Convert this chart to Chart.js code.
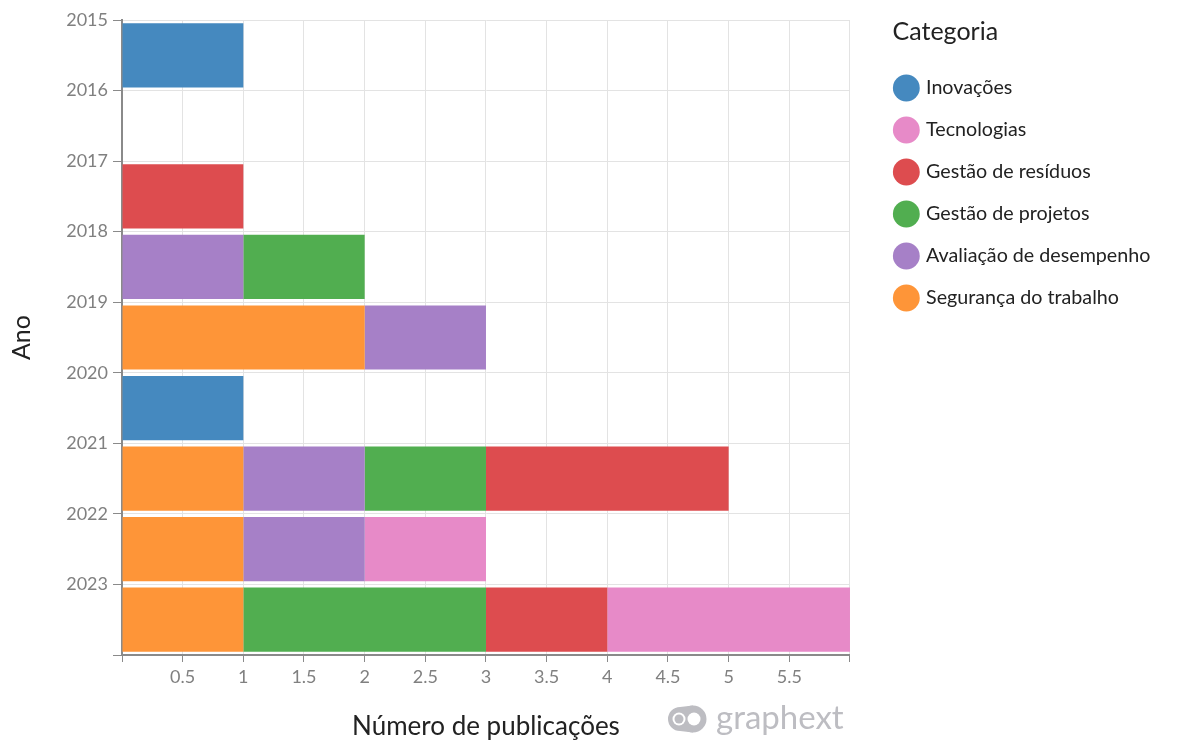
<!DOCTYPE html>
<html lang="pt">
<head>
<meta charset="utf-8">
<script src="https://cdn.jsdelivr.net/npm/chart.js@4.4.1/dist/chart.umd.min.js"></script>
<style>
  html, body { margin: 0; padding: 0; background: #fff; }
  #wrap { position: relative; width: 1191px; height: 742px; }
</style>
</head>
<body>
<div id="wrap"><canvas id="chart"></canvas></div>
<script>
// dados (anos de cima para baixo)
const anos = ['2015', '2016', '2017', '2018', '2019', '2020', '2021', '2022', '2023'];

const seguranca   = [0, 0, 0, 0, 2, 0, 1, 1, 1];
const avaliacao   = [0, 0, 0, 1, 1, 0, 1, 1, 0];
const projetos    = [0, 0, 0, 1, 0, 0, 1, 0, 2];
const residuos    = [0, 0, 1, 0, 0, 0, 2, 0, 1];
const tecnologias = [0, 0, 0, 0, 0, 0, 0, 1, 2];
const inovacoes   = [1, 0, 0, 0, 0, 1, 0, 0, 0];

const xMax = 6;
const xStep = 0.5;

Chart.defaults.font.family = 'Lato, "Noto Sans", sans-serif';

const eixoCinza = '#8a8a8a';
const grade = '#e3e3e3';

// medidas da legenda
const legPad = 22.3;
const legBoxW = 23;
const legBoxH = 19;

// título da legenda e logo desenhados à mão
const extras = {
    id: 'extras',
    afterDraw(chart) {
        const ctx = chart.ctx;
        const lg = chart.legend;
        ctx.save();
        // "Categoria" alinhado com a borda esquerda dos círculos
        const raio = legBoxH * Math.SQRT2 / 2;
        ctx.fillStyle = '#222';
        ctx.font = '25px Lato, "Noto Sans", sans-serif';
        ctx.textAlign = 'left';
        ctx.textBaseline = 'middle';
        ctx.fillText('Categoria', lg.left + legPad + legBoxW / 2 - raio - 2, 32);

        // logo graphext
        const cinza = '#bdbdc2';
        ctx.fillStyle = cinza;
        ctx.beginPath();
        ctx.arc(680, 719, 12, 0, Math.PI * 2);
        ctx.arc(693, 719, 13.5, 0, Math.PI * 2);
        ctx.fill();
        ctx.beginPath();
        ctx.moveTo(680, 707);
        ctx.lineTo(693, 705.5);
        ctx.lineTo(693, 732.5);
        ctx.lineTo(680, 731);
        ctx.closePath();
        ctx.fill();
        ctx.fillStyle = '#fff';
        ctx.beginPath();
        ctx.arc(694, 719, 6.5, 0, Math.PI * 2);
        ctx.fill();
        ctx.beginPath();
        ctx.arc(679, 719, 6.5, 0, Math.PI * 2);
        ctx.fill();
        ctx.fillStyle = cinza;
        ctx.beginPath();
        ctx.arc(679, 719, 4.5, 0, Math.PI * 2);
        ctx.fill();
        ctx.font = '33px Lato, "Noto Sans", sans-serif';
        ctx.textBaseline = 'alphabetic';
        ctx.fillText('graphext', 716, 729, 132);
        ctx.restore();
    }
};

const ctx = document.getElementById('chart').getContext('2d');

new Chart(ctx, {
    type: 'bar',
    data: {
        labels: anos,
        datasets: [
            { label: 'Segurança do trabalho', data: seguranca, backgroundColor: '#fe9538' },
            { label: 'Avaliação de desempenho', data: avaliacao, backgroundColor: '#a680c7' },
            { label: 'Gestão de projetos', data: projetos, backgroundColor: '#51ae50' },
            { label: 'Gestão de resíduos', data: residuos, backgroundColor: '#dd4c4f' },
            { label: 'Tecnologias', data: tecnologias, backgroundColor: '#e78ac8' },
            { label: 'Inovações', data: inovacoes, backgroundColor: '#4589bf' }
        ]
    },
    options: {
        indexAxis: 'y',
        responsive: true,
        maintainAspectRatio: false,
        animation: false,
        layout: { padding: { top: 20, right: 30.6, bottom: 0, left: 0 } },
        datasets: {
            bar: { categoryPercentage: 1, barPercentage: 0.91, borderWidth: 0 }
        },
        scales: {
            x: {
                type: 'linear',
                stacked: true,
                min: 0,
                max: xMax,
                ticks: {
                    stepSize: xStep,
                    color: '#808080',
                    font: { size: 18 },
                    padding: 4,
                    maxRotation: 0,
                    callback: (v) => (v === 0 || v === xMax) ? '' : String(v)
                },
                grid: { color: grade, tickColor: eixoCinza, tickLength: 7 },
                border: { color: eixoCinza, width: 2 },
                title: {
                    display: true,
                    text: 'Número de publicações',
                    color: '#222',
                    font: { size: 26 },
                    padding: { top: 0, bottom: 0 }
                },
                afterFit: (s) => { s.height = 87; }
            },
            y: {
                type: 'category',
                stacked: true,
                display: false
            },
            anosEixo: {
                type: 'linear',
                position: 'left',
                offset: false,
                min: 0,
                max: anos.length,
                reverse: true,
                ticks: {
                    stepSize: 1,
                    autoSkip: false,
                    color: '#808080',
                    font: { size: 18 },
                    padding: 5,
                    callback: (v) => anos[v] !== undefined ? anos[v] : ''
                },
                grid: { offset: false, color: grade, tickColor: eixoCinza, tickLength: 9 },
                border: { color: eixoCinza, width: 2 },
                title: {
                    display: true,
                    text: 'Ano',
                    color: '#222',
                    font: { size: 25 },
                    padding: { top: 7, bottom: 0 }
                },
                afterFit: (s) => { s.width = 122; }
            },
            folga: {
                type: 'linear',
                position: 'right',
                offset: false,
                grid: { display: false },
                ticks: { display: false },
                border: { display: false },
                afterFit: (s) => { s.width = 24.2; }
            }
        },
        plugins: {
            legend: {
                position: 'right',
                align: 'start',
                reverse: true,
                maxWidth: 400,
                title: { display: true, text: '', font: { size: 25 }, padding: { top: 0, bottom: 5.85 } },
                labels: {
                    usePointStyle: true,
                    pointStyle: 'circle',
                    boxWidth: legBoxW,
                    boxHeight: legBoxH,
                    color: '#222',
                    font: { size: 19.7 },
                    padding: legPad
                }
            },
            tooltip: { enabled: false }
        }
    },
    plugins: [extras]
});
</script>
</body>
</html>
